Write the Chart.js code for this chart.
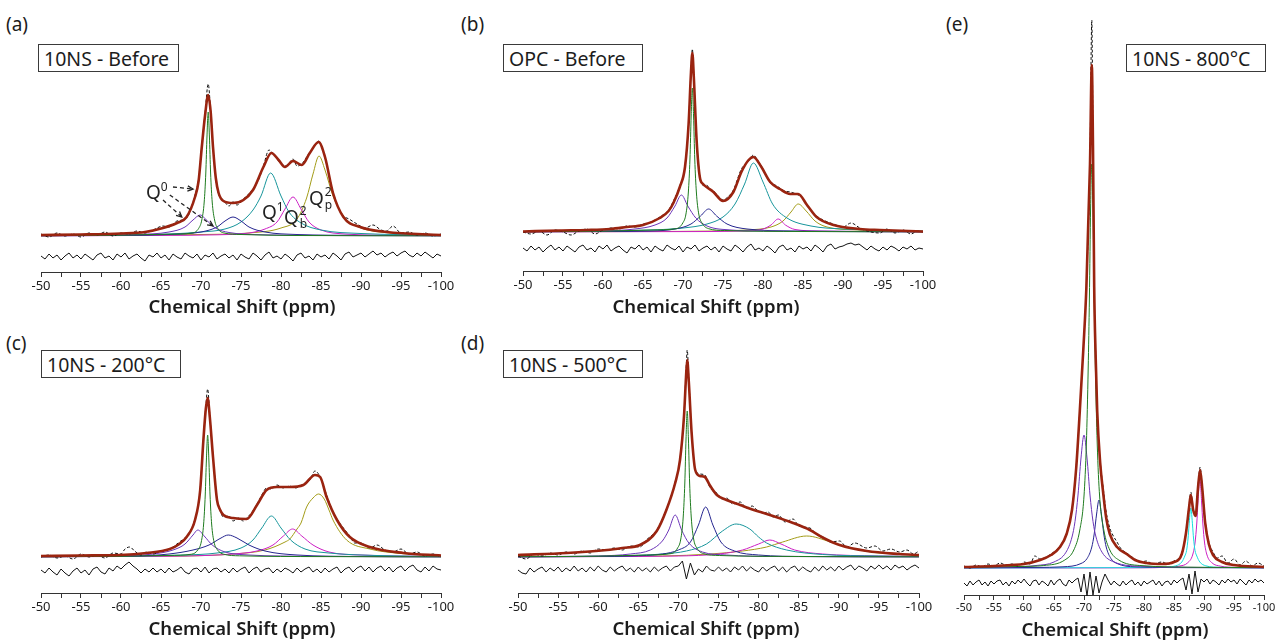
<!DOCTYPE html>
<html>
<head>
<meta charset="utf-8">
<script src="https://cdn.jsdelivr.net/npm/chart.js@4.4.1/dist/chart.umd.min.js"></script>
<style>
  body { margin:0; width:1282px; height:644px; position:relative; overflow:hidden; background:#fff;
         font-family:"Noto Sans", sans-serif; color:#1c1c1c; }
  canvas { position:absolute; }
  .tag { position:absolute; font-size:19px; line-height:19px; }
  .box { position:absolute; height:28px; border:1.3px solid #3a3a3a; background:#fff;
         font-size:19.5px; line-height:28px; padding-left:5px; box-sizing:border-box; white-space:nowrap; }
  .xt  { position:absolute; font-size:18.5px; font-weight:600; line-height:19px; white-space:nowrap;
         transform:translateX(-50%); }
  .q   { position:absolute; font-size:19px; line-height:19px; color:#222; }
  .q sup { font-size:12px; vertical-align:8px; }
  .stk { display:inline-block; position:relative; width:9px; height:19px; vertical-align:top; }
  .stk i { position:absolute; left:1px; font-style:normal; font-size:12px; line-height:12px; }
</style>
</head>
<body>

<div class="tag" style="left:6px;top:15px">(a)</div>
<div class="tag" style="left:461px;top:15px">(b)</div>
<div class="tag" style="left:6px;top:334px">(c)</div>
<div class="tag" style="left:461px;top:334px">(d)</div>
<div class="tag" style="left:946px;top:15px">(e)</div>

<div class="box" style="left:38px;top:44px;width:141px">10NS - Before</div>
<div class="box" style="left:503px;top:44px;width:140px">OPC - Before</div>
<div class="box" style="left:41px;top:350px;width:140px">10NS - 200°C</div>
<div class="box" style="left:503px;top:350px;width:140px">10NS - 500°C</div>
<div class="box" style="left:1126px;top:44px;width:140px">10NS - 800°C</div>

<canvas id="cA" width="440" height="226" style="left:21px;top:76px"></canvas>
<canvas id="cB" width="440" height="261" style="left:503px;top:40px"></canvas>
<canvas id="cC" width="440" height="238" style="left:21px;top:385px"></canvas>
<canvas id="cD" width="441" height="278" style="left:498px;top:345px"></canvas>
<canvas id="cE" width="340" height="610" style="left:944px;top:15px"></canvas>

<div class="q" style="left:146px;top:177px">Q<sup>0</sup></div>
<div class="q" style="left:262px;top:197px">Q<sup>1</sup></div>
<div class="q" style="left:284px;top:208px">Q<span class="stk"><i style="top:-3px">2</i><i style="top:10px">b</i></span></div>
<div class="q" style="left:309px;top:189px">Q<span class="stk"><i style="top:-3px">2</i><i style="top:10px">p</i></span></div>

<div class="xt" style="left:242px;top:296px">Chemical Shift (ppm)</div>
<div class="xt" style="left:706px;top:296px">Chemical Shift (ppm)</div>
<div class="xt" style="left:242px;top:618px">Chemical Shift (ppm)</div>
<div class="xt" style="left:706px;top:618px">Chemical Shift (ppm)</div>
<div class="xt" style="left:1115px;top:619px">Chemical Shift (ppm)</div>

<script>
/* ── (a) 10NS before: [ppm, intensity] ───────────────────── */
var fitA = [[-50,1],[-55,1.5],[-60,2.5],[-63,4],[-65.25,8],[-67,13],[-68.2,19],[-69.25,39],[-69.7,55],[-70.1,89],[-70.5,120],[-70.9,141],[-71.2,125],[-71.5,89],[-71.85,58],[-72.2,43],[-72.8,35],[-74,33],[-75.3,36],[-76.5,46],[-77.8,69],[-78.8,83],[-79.7,76],[-80.5,69],[-81.5,75],[-82.6,71],[-83.6,83],[-84.7,94],[-85.5,79],[-86.5,43],[-87.8,19],[-89.9,9],[-93.2,4],[-100,1]];
var expA = [[-50,2],[-51,-1],[-52,3],[-53,0],[-54,2],[-55,-1],[-56,3],[-57,1],[-58,4],[-59,0],[-60,3],[-61,2],[-62,5],[-63,3],[-64,6],[-65.25,10],[-66,9],[-67,15],[-68.2,18],[-69.25,41],[-69.7,57],[-70.1,90],[-70.5,122],[-70.9,152],[-71.2,126],[-71.5,90],[-71.85,57],[-72.2,42],[-72.8,36],[-73.5,30],[-74,34],[-74.5,31],[-75.3,37],[-76.5,47],[-77.3,58],[-77.8,70],[-78.5,86],[-78.8,84],[-79.3,80],[-79.7,75],[-80.5,70],[-81,73],[-81.5,77],[-82,70],[-82.6,72],[-83.6,84],[-84.4,92],[-84.7,95],[-85.5,78],[-86.5,44],[-87.3,26],[-87.8,20],[-88.5,17],[-89.5,12],[-90.5,8],[-91.5,11],[-92.5,6],[-93.2,5],[-94,10],[-95,3],[-96,4],[-97,1],[-98,3],[-99,0],[-100,2]];
var greenA   = [[-50,0.3],[-60,0.8],[-66,1.8],[-68.9,3],[-69.7,7.5],[-70.1,16],[-70.4,34],[-70.6,63],[-70.75,100],[-70.9,124],[-71.05,100],[-71.2,63],[-71.4,34],[-71.7,16],[-72.1,7.5],[-72.9,3],[-75,1.5],[-82,0.5],[-100,0.2]];
var purpleA  = [[-50,0.3],[-58,0.8],[-62,1.5],[-66,4],[-68,9],[-69,16],[-69.9,21],[-70.8,15],[-71.8,8],[-73.5,3.5],[-78,1.2],[-90,0.4],[-100,0.2]];
var navyA    = [[-50,0.3],[-60,0.6],[-66,1.5],[-70,4],[-72,9],[-73,15],[-74,19],[-75,15],[-76,9],[-78,4],[-82,1.5],[-90,0.6],[-100,0.3]];
var tealA    = [[-50,0.4],[-60,1],[-66,2],[-70,4],[-73,7],[-75,14],[-76.5,26],[-77.5,40],[-78.7,63],[-80,40],[-81,24],[-82.5,13],[-85,6],[-90,2.5],[-100,1]];
var magentaA = [[-50,0.2],[-65,0.6],[-72,1.2],[-76,3],[-78,7],[-79.5,14],[-80.5,27],[-81.5,39],[-82.5,27],[-83.5,14],[-85,6],[-88,2],[-95,0.6],[-100,0.4]];
var oliveA   = [[-50,0.3],[-60,0.8],[-70,1.5],[-76,3],[-80,8],[-82,17],[-83.2,38],[-84,62],[-84.75,80],[-85.5,66],[-86.5,40],[-88,18],[-90,8],[-93,3.5],[-100,1]];
var residA = [-20,-23,-18,-22,-19,-24,-20,-17,-22,-19,
  -23,-18,-21,-24,-19,-17,-22,-20,-24,-18,
  -21,-17,-23,-20,-18,-22,-25,-19,-21,-17,
  -22,-19,-24,-18,-21,-23,-17,-20,-22,-18,
  -24,-19,-21,-17,-23,-20,-18,-22,-19,-24,
  -18,-21,-23,-17,-20,-24,-19,-16,-22,-20,
  -23,-18,-21,-25,-19,-17,-22,-20,-24,-18,
  -21,-19,-23,-17,-20,-24,-18,-16,-21,-19,
  -17,-21,-18,-15,-19,-17,-21,-18,-16,-20,
  -17,-15,-19,-21,-17,-20,-16,-19,-22,-18,-20];
/* Q0 arrows: [fromPpm, fromY, toPpm, toY] */
var arrowsA = [[-66.5,49,-69.0,47],[-65.25,36,-67.6,19],[-66.1,41,-71.5,10]];

/* ── (b) OPC before ─────────────────────────────────────── */
var fitB = [[-50,0.5],[-54.6,1.5],[-58,2],[-60.9,3],[-63,5],[-65,7],[-67.1,14],[-68.2,21],[-68.8,29],[-69.6,45],[-70.25,65],[-70.7,108],[-71,160],[-71.17,179],[-71.35,155],[-71.7,92],[-72.1,55],[-72.5,48],[-72.95,45],[-73.8,40],[-75,31],[-76.3,40],[-77.3,60],[-78.2,72],[-78.8,75],[-79.8,65],[-80.9,50],[-82.1,43],[-83.4,38],[-84.4,38],[-85.5,27],[-86.7,15],[-88.8,7],[-92.1,3],[-94.6,2],[-100,0.5]];
var expB = [[-50,0],[-51,-2],[-52,1],[-53,-3],[-54,2],[-55,0],[-56,-3],[-57,1],[-58,3],[-59,-2],[-60,2],[-61,4],[-62,3],[-63,6],[-64,5],[-65,8],[-66,10],[-67.1,15],[-68.2,22],[-68.8,31],[-69.6,46],[-70.25,66],[-70.7,109],[-71,162],[-71.17,183],[-71.35,156],[-71.7,93],[-72.1,56],[-72.5,47],[-72.95,47],[-73.4,42],[-73.8,41],[-74.4,36],[-75,32],[-75.6,35],[-76.3,42],[-77.3,63],[-78.2,71],[-78.8,77],[-79.3,72],[-79.8,66],[-80.9,49],[-81.5,47],[-82.1,44],[-82.7,41],[-83.4,40],[-84.4,37],[-85,33],[-85.5,26],[-86.7,16],[-87.5,12],[-88.8,8],[-90,5],[-91,9],[-92.1,4],[-93,1],[-94.6,-1],[-95.5,3],[-96.5,-1],[-97.5,2],[-98.5,-2],[-99.3,1],[-100,0]];
var greenB   = [[-50,0.3],[-60,0.8],[-66,2],[-69.17,3.4],[-69.97,9],[-70.37,18],[-70.67,40],[-70.87,73],[-71.02,116],[-71.17,144],[-71.32,116],[-71.47,73],[-71.67,40],[-71.97,18],[-72.37,9],[-73.17,3.4],[-75.17,1.5],[-85,0.5],[-100,0.2]];
var purpleB  = [[-50,0.3],[-56,0.6],[-60,1],[-64,3],[-66.5,7],[-68,14],[-69,26],[-69.8,37],[-70.6,26],[-71.6,14],[-73,6],[-76,2],[-80,1],[-90,0.4],[-100,0.2]];
var navyB    = [[-50,0.2],[-60,0.5],[-66,1],[-69,3],[-71,8],[-72.2,16],[-73.2,23],[-74.2,16],[-75.5,8],[-78,3],[-84,1],[-100,0.3]];
var tealB    = [[-50,0.4],[-60,1],[-66,2],[-70,4],[-73,8],[-75,15],[-76.5,28],[-77.7,48],[-78.8,69],[-80,50],[-81.2,28],[-83,14],[-86,6],[-90,3],[-100,1]];
var magentaB = [[-50,0.1],[-70,0.4],[-78,1],[-80,3],[-81,7],[-81.9,13],[-82.8,7],[-84,2.5],[-87,1],[-100,0.2]];
var oliveB   = [[-50,0.2],[-65,0.5],[-74,1],[-78,2],[-81,5],[-82.5,11],[-83.5,20],[-84.4,28],[-85.4,21],[-86.5,11],[-88,5],[-92,2],[-100,0.5]];
var residB = [-16,-19,-14,-18,-15,-20,-16,-13,-18,-15,
  -19,-14,-17,-20,-15,-13,-18,-16,-20,-14,
  -17,-13,-19,-16,-14,-18,-21,-15,-17,-13,
  -18,-15,-20,-14,-17,-19,-13,-16,-18,-14,
  -20,-15,-17,-13,-19,-16,-14,-18,-15,-20,
  -14,-17,-19,-13,-16,-20,-15,-12,-18,-16,
  -19,-14,-17,-21,-15,-13,-18,-16,-20,-14,
  -17,-15,-19,-13,-16,-20,-14,-12,-17,-15,
  -14,-12,-11,-13,-12,-15,-18,-14,-17,-19,
  -15,-18,-14,-16,-19,-15,-17,-14,-18,-16,-17];

/* ── (c) 10NS 200 °C ────────────────────────────────────── */
var fitC = [[-50,1],[-55,1.5],[-59.9,2],[-63.2,4],[-66.1,8],[-67.3,13],[-68.2,20],[-69.25,37],[-69.9,67],[-70.3,117],[-70.6,148],[-70.83,159],[-71.1,140],[-71.5,100],[-72,57],[-72.4,47],[-72.8,42],[-74,39],[-75.7,38],[-77,52],[-78.2,67],[-79.5,70],[-81.1,70],[-82.8,72],[-84.25,82],[-84.9,80],[-85.7,60],[-87,37],[-88.6,20],[-91.1,10],[-95.3,4],[-100,1.5]];
var expC = [[-50,0],[-51,2],[-52,-1],[-53,1],[-54,-2],[-55,3],[-56,0],[-57,2],[-58,-1],[-59,4],[-60,3],[-60.5,8],[-61.1,10],[-61.7,6],[-62.5,2],[-63.2,5],[-64,3],[-65,6],[-66.1,8],[-67.3,15],[-68.2,21],[-69.25,38],[-69.9,68],[-70.3,118],[-70.6,150],[-70.83,168],[-71.1,142],[-71.5,101],[-72,58],[-72.4,46],[-72.8,40],[-73.5,41],[-74,36],[-74.7,39],[-75.3,36],[-75.7,39],[-76.3,44],[-77,53],[-77.6,62],[-78.2,69],[-78.8,68],[-79.5,72],[-80.3,69],[-81.1,71],[-81.8,69],[-82.8,73],[-83.6,77],[-84.25,86],[-84.9,80],[-85.7,62],[-86.4,47],[-87,38],[-87.7,30],[-88.6,21],[-89.2,14],[-90,14],[-91.1,9],[-92,12],[-93,7],[-94,5],[-95,8],[-96,3],[-97,5],[-98,1],[-99,3],[-100,0]];
var greenC   = [[-50,0.3],[-60,0.7],[-66,1.6],[-68.83,2.8],[-69.63,7.4],[-70.03,15],[-70.33,33],[-70.53,62],[-70.68,98],[-70.83,122],[-70.98,98],[-71.13,62],[-71.33,33],[-71.63,15],[-72.03,7.4],[-72.83,2.8],[-74.83,1.2],[-85,0.4],[-100,0.2]];
var purpleC  = [[-50,0.3],[-56,0.6],[-60,1],[-64,3],[-66.5,7],[-68,13],[-69,22],[-69.6,27],[-70.4,21],[-71.4,12],[-73,5],[-76,2],[-80,1],[-90,0.4],[-100,0.2]];
var navyC    = [[-50,0.3],[-58,0.6],[-62,1],[-66,3],[-69,7],[-71,12],[-72.5,19],[-73.4,22],[-74.5,19],[-76,12],[-78,6],[-82,2],[-90,0.5],[-100,0.2]];
var tealC    = [[-50,0.3],[-62,1],[-68,2],[-72,4],[-75,9],[-76.5,17],[-77.6,29],[-78.8,41],[-80,29],[-81.2,17],[-83,8],[-86,4],[-92,1.5],[-100,0.5]];
var magentaC = [[-50,0.2],[-60,0.5],[-68,1],[-74,3],[-77,6],[-79,12],[-80.3,21],[-81.45,28],[-82.6,21],[-84,12],[-86,5],[-90,2],[-100,0.5]];
var oliveC   = [[-50,0.3],[-60,0.6],[-68,1],[-74,3],[-78,7],[-80.5,15],[-81.1,18],[-82,28],[-82.5,34],[-83.2,50],[-84,59],[-84.7,63],[-85.4,58],[-86,47],[-86.5,37],[-88.2,17],[-91.1,8],[-95,3.5],[-100,1.5]];
var residC = [-13,-16,-11,-15,-18,-12,-16,-19,-14,-11,
  -16,-13,-18,-12,-10,-15,-17,-11,-14,-9,
  -12,-8,-5,-9,-12,-16,-12,-15,-11,-15,
  -12,-16,-11,-15,-13,-10,-15,-17,-12,-11,
  -15,-10,-16,-12,-11,-15,-12,-16,-11,-15,
  -12,-10,-16,-12,-10,-15,-12,-11,-16,-12,
  -15,-11,-13,-16,-11,-15,-12,-10,-15,-12,
  -16,-11,-15,-12,-10,-16,-12,-10,-15,-11,
  -9,-14,-10,-15,-11,-9,-14,-10,-15,-11,
  -9,-14,-10,-8,-13,-15,-10,-14,-9,-12,-13];

/* ── (d) 10NS 500 °C ────────────────────────────────────── */
var fitD = [[-50,2],[-56.1,4],[-61.1,7],[-63,9],[-65.2,12],[-67.3,26],[-68.5,47],[-69.6,74],[-70.2,97],[-70.7,141],[-70.95,180],[-71.1,197],[-71.3,175],[-71.65,124],[-72.1,87],[-72.7,81],[-73.3,80],[-73.9,72],[-74.8,62],[-76,57],[-77.7,52],[-79.8,46],[-81.8,41],[-84.3,34],[-86.4,27],[-88.1,19],[-90.1,12],[-93.5,6],[-97.6,3],[-100,2]];
var expD = [[-50,1],[-51,-2],[-52,3],[-53,1],[-54,4],[-55,2],[-56,5],[-57,3],[-58,6],[-59,4],[-60,8],[-61.1,7],[-62,9],[-63,7],[-64,11],[-65.2,10],[-66,17],[-67.3,27],[-68.5,48],[-69.6,75],[-70.2,98],[-70.7,142],[-70.95,185],[-71.1,207],[-71.3,178],[-71.65,125],[-72.1,88],[-72.7,83],[-73.3,82],[-73.9,70],[-74.3,66],[-74.8,64],[-75.4,58],[-76,59],[-76.8,53],[-77.7,55],[-78.5,49],[-79.2,51],[-79.8,47],[-80.6,44],[-81.2,45],[-81.8,40],[-82.5,42],[-83.3,35],[-84.3,38],[-85,31],[-86.4,29],[-87.3,22],[-88.1,20],[-89,15],[-90.1,16],[-91,10],[-92,14],[-93.5,9],[-94.5,11],[-95.5,6],[-96.5,8],[-97.6,5],[-98.5,7],[-99.3,3],[-100,6]];
var greenD   = [[-50,0.3],[-60,0.8],[-66,2],[-69.1,3.4],[-69.9,9],[-70.3,18],[-70.6,40],[-70.8,74],[-70.95,118],[-71.1,146],[-71.25,118],[-71.4,74],[-71.6,40],[-71.9,18],[-72.3,9],[-73.1,3.4],[-75.1,1.5],[-85,0.5],[-100,0.2]];
var purpleD  = [[-50,0.3],[-56,0.6],[-60,1],[-64,3],[-66.5,7],[-68,16],[-68.8,27],[-69.6,42],[-70.4,27],[-71.3,14],[-73,5],[-76,2],[-82,0.5],[-100,0.2]];
var navyD    = [[-50,0.2],[-60,0.5],[-64,1],[-68,3],[-70,7],[-71.5,15],[-72.5,32],[-73.4,50],[-74.3,32],[-75.3,15],[-77,6],[-80,2],[-86,0.5],[-100,0.2]];
var tealD    = [[-50,0.3],[-62,1],[-68,3],[-71,6],[-73.5,13],[-75.5,26],[-77.2,33],[-78.9,28],[-80,20],[-81,14],[-83.5,7],[-88,2.5],[-95,1],[-100,0.5]];
var magentaD = [[-50,0.1],[-60,0.4],[-70,1],[-75,3],[-78,7],[-80,13],[-81.4,17],[-82.8,13],[-84.5,7],[-88,3],[-95,1],[-100,0.5]];
var oliveD   = [[-50,0.3],[-60,0.6],[-68,1],[-74,3],[-78,6],[-81,10],[-83,15],[-86,21],[-89,15],[-91,10],[-94,5],[-97,3],[-100,2]];
var residD = [-13,-16,-17,-11,-15,-12,-10,-15,-11,-14,
  -10,-15,-11,-14,-9,-14,-11,-15,-10,-14,
  -9,-13,-15,-10,-14,-11,-9,-14,-11,-15,
  -10,-14,-11,-15,-10,-14,-11,-9,-14,-10,
  -9,-4,-22,-6,-18,-12,-15,-9,-13,-14,
  -10,-14,-11,-15,-10,-13,-9,-14,-10,-13,
  -15,-10,-14,-11,-9,-14,-10,-15,-11,-9,
  -14,-10,-13,-15,-10,-14,-9,-13,-10,-14,
  -9,-13,-10,-8,-13,-9,-11,-14,-9,-12,
  -8,-12,-9,-13,-8,-11,-9,-13,-10,-8,-11];

/* ── (e) 10NS 800 °C ────────────────────────────────────── */
var fitE = [[-50,1],[-55,2],[-58,3],[-60,4],[-62.7,8],[-64.5,13],[-66,21],[-67.1,34],[-68,58],[-68.7,100],[-69.3,157],[-69.9,220],[-70.4,281],[-71,404],[-71.3,503],[-71.5,420],[-71.7,281],[-71.95,210],[-72.2,157],[-72.7,105],[-73.2,75],[-73.7,50],[-74.3,34],[-75.5,21],[-77.1,14],[-78.5,8],[-80.4,5],[-83,4],[-85,6],[-86.3,14],[-87,35],[-87.5,60],[-87.8,73],[-88.2,58],[-88.6,52],[-89,80],[-89.35,98],[-89.7,80],[-90.2,45],[-90.8,24],[-91.5,13],[-93,6],[-95,3],[-100,1]];
var expE = [[-50,2],[-51,0],[-52,3],[-53,1],[-54,4],[-55,2],[-56,5],[-57,3],[-58,4],[-59,2],[-60,6],[-61,4],[-61.8,12],[-62.7,9],[-64.5,14],[-66,22],[-67.1,35],[-68,59],[-68.7,101],[-69.3,158],[-69.9,221],[-70.4,282],[-71,410],[-71.3,548],[-71.5,425],[-71.7,283],[-71.95,212],[-72.2,158],[-72.7,107],[-73.2,80],[-73.7,56],[-74.3,40],[-74.8,33],[-75.5,26],[-76.2,19],[-77.1,15],[-78.5,9],[-79.5,6],[-80.4,7],[-81.5,4],[-83,6],[-84,4],[-85,7],[-86.3,15],[-87,36],[-87.5,62],[-87.8,76],[-88.2,59],[-88.6,53],[-89,82],[-89.35,101],[-89.7,81],[-90.2,47],[-90.8,26],[-91.5,16],[-92.2,10],[-93,12],[-94,5],[-95,9],[-96,3],[-97,7],[-98,2],[-99,5],[-100,2]];
var greenE   = [[-50,0.5],[-59,1.5],[-63.3,2.5],[-66.8,8],[-68.3,18],[-69.3,38],[-70,72],[-70.4,125],[-70.7,200],[-70.9,270],[-71.1,360],[-71.3,404],[-71.5,360],[-71.7,270],[-71.9,200],[-72.2,125],[-72.6,72],[-73.3,38],[-74.3,18],[-75.8,8],[-79.3,2.5],[-90,0.7],[-100,0.4]];
var purpleE  = [[-50,0.5],[-58,1],[-62,2.5],[-65,6],[-67,15.8],[-68,31],[-68.5,46.5],[-69,73],[-69.5,110],[-70,133],[-70.5,110],[-71,73],[-71.5,46.5],[-72,31],[-73,15.8],[-75,6],[-80,1.6],[-90,0.5],[-100,0.3]];
var navyE    = [[-50,0.2],[-62,0.6],[-66.5,1.2],[-69.5,4.5],[-70.5,9.4],[-71.3,21],[-71.7,34],[-72.1,54],[-72.5,68],[-72.9,54],[-73.3,34],[-73.7,21],[-74.5,9.4],[-75.5,4.5],[-78.5,1.2],[-90,0.3],[-100,0.2]];
var cyanE    = [[-50,0],[-80,0.4],[-82.8,0.6],[-85.3,2.2],[-86.3,6],[-86.8,12],[-87.1,17.6],[-87.35,30],[-87.5,42],[-87.8,60],[-88.1,42],[-88.25,30],[-88.5,17.6],[-88.8,12],[-89.3,6],[-90.3,2.2],[-92.8,0.6],[-100,0.2]];
var magentaE = [[-50,0],[-80,0.2],[-83.3,0.6],[-85.8,1.8],[-87.3,5.3],[-88.1,13],[-88.5,25],[-88.8,45],[-89,66],[-89.3,90],[-89.6,66],[-89.8,45],[-90.1,25],[-90.5,13],[-91.3,5.3],[-92.8,1.8],[-95.3,0.6],[-100,0.2]];
var residE = [-15,-18,-13,-17,-14,-12,-17,-14,-18,-13,
  -16,-13,-12,-17,-14,-18,-13,-16,-12,-15,
  -11,-15,-18,-13,-12,-17,-13,-15,-18,-12,
  -17,-13,-11,-16,-18,-12,-15,-12,
  -10,-24,-6,-28,-4,-27,-8,-25,-14,-6,
  -12,-17,-13,-16,-18,-13,-17,-14,-12,-17,
  -14,-18,-13,-16,-14,-12,-17,-13,-18,-14,
  -13,-17,-12,-15,-12,
  -10,-22,-6,-26,-3,-24,-11,
  -14,-11,-16,-12,-14,-17,-12,-15,-11,-14,
  -12,-16,-11,-14,-17,-12,-15,-11,-14,-12,-15];

/* colours of the fit components */
var COL = {
  fit: '#9a2410', green: '#1e7b1e', purple: '#6c35b8', navy: '#25258f',
  teal: '#17959b', magenta: '#cc1fc4', olive: '#a39c18', cyan: '#14dede'
};

function pts(arr) {
  return arr.map(function(p) { return { x: p[0], y: p[1] }; });
}

function residPts(arr) {
  return arr.map(function(v, i) { return { x: -50 - i * 0.5, y: v }; });
}

/* dashed open arrows for the Q0 labels */
var arrowPlugin = {
  id: 'qArrows',
  afterDatasetsDraw: function(chart, args, opts) {
    if (!opts || !opts.list) return;
    var ctx = chart.ctx, xs = chart.scales.x, ys = chart.scales.y;
    ctx.save();
    ctx.strokeStyle = '#222';
    ctx.lineWidth = 1.3;
    opts.list.forEach(function(a) {
      var x1 = xs.getPixelForValue(a[0]), y1 = ys.getPixelForValue(a[1]);
      var x2 = xs.getPixelForValue(a[2]), y2 = ys.getPixelForValue(a[3]);
      var ang = Math.atan2(y2 - y1, x2 - x1);
      ctx.setLineDash([4, 3]);
      ctx.beginPath(); ctx.moveTo(x1, y1); ctx.lineTo(x2, y2); ctx.stroke();
      ctx.setLineDash([]);
      ctx.beginPath();
      ctx.moveTo(x2 - 6 * Math.cos(ang - 0.45), y2 - 6 * Math.sin(ang - 0.45));
      ctx.lineTo(x2, y2);
      ctx.lineTo(x2 - 6 * Math.cos(ang + 0.45), y2 - 6 * Math.sin(ang + 0.45));
      ctx.stroke();
    });
    ctx.restore();
  }
};

function makePanel(id, cfg) {
  var ds = [];
  ds.push({ data: pts(cfg.fit), borderColor: COL.fit, borderWidth: 2.6, cubicInterpolationMode: 'monotone' });
  ds.push({ data: pts(cfg.exp), borderColor: '#111', borderWidth: 1, borderDash: [3, 2], cubicInterpolationMode: 'monotone' });
  cfg.comps.forEach(function(c) {
    ds.push({ data: pts(c[0]), borderColor: c[1], borderWidth: 1, cubicInterpolationMode: 'monotone' });
  });
  ds.push({ data: residPts(cfg.resid), borderColor: '#111', borderWidth: 1, tension: 0 });
  ds.forEach(function(d) { d.pointRadius = 0; d.fill = false; d.clip = false; });

  return new Chart(document.getElementById(id), {
    type: 'line',
    data: { datasets: ds },
    plugins: [arrowPlugin],
    options: {
      responsive: false,
      animation: false,
      parsing: false,
      layout: { padding: { left: 20, right: 20, top: 0, bottom: 0 } },
      plugins: { legend: { display: false }, tooltip: { enabled: false }, qArrows: { list: cfg.arrows } },
      scales: {
        x: {
          type: 'linear', min: -100, max: -50, reverse: true,
          border: { display: true, color: '#333', width: 1 },
          grid: { drawOnChartArea: false, drawTicks: true, tickLength: 5, color: '#333' },
          ticks: {
            stepSize: 2.5, autoSkip: false, maxRotation: 0, padding: cfg.tickPad,
            color: '#1c1c1c', font: { family: 'Noto Sans', size: cfg.tickSize },
            callback: function(v) { return v % 5 === 0 ? String(v) : ''; }
          },
          afterFit: function(s) { s.height = 30; }
        },
        y: { display: false, min: cfg.yMin, max: cfg.yMax }
      }
    }
  });
}

makePanel('cA', { fit: fitA, exp: expA, resid: residA, yMin: -36, yMax: 160, tickSize: 13, tickPad: 1, arrows: arrowsA,
  comps: [[greenA, COL.green], [purpleA, COL.purple], [navyA, COL.navy], [tealA, COL.teal], [magentaA, COL.magenta], [oliveA, COL.olive]] });
makePanel('cB', { fit: fitB, exp: expB, resid: residB, yMin: -39, yMax: 192, tickSize: 13, tickPad: 1,
  comps: [[greenB, COL.green], [purpleB, COL.purple], [navyB, COL.navy], [tealB, COL.teal], [magentaB, COL.magenta], [oliveB, COL.olive]] });
makePanel('cC', { fit: fitC, exp: expC, resid: residC, yMin: -36, yMax: 172, tickSize: 13, tickPad: 1,
  comps: [[greenC, COL.green], [purpleC, COL.purple], [navyC, COL.navy], [tealC, COL.teal], [magentaC, COL.magenta], [oliveC, COL.olive]] });
makePanel('cD', { fit: fitD, exp: expD, resid: residD, yMin: -36, yMax: 212, tickSize: 13, tickPad: 1,
  comps: [[greenD, COL.green], [purpleD, COL.purple], [navyD, COL.navy], [tealD, COL.teal], [magentaD, COL.magenta], [oliveD, COL.olive]] });
makePanel('cE', { fit: fitE, exp: expE, resid: residE, yMin: -27, yMax: 553, tickSize: 11, tickPad: 1,
  comps: [[greenE, COL.green], [purpleE, COL.purple], [navyE, COL.navy], [cyanE, COL.cyan], [magentaE, COL.magenta]] });
</script>
</body>
</html>
